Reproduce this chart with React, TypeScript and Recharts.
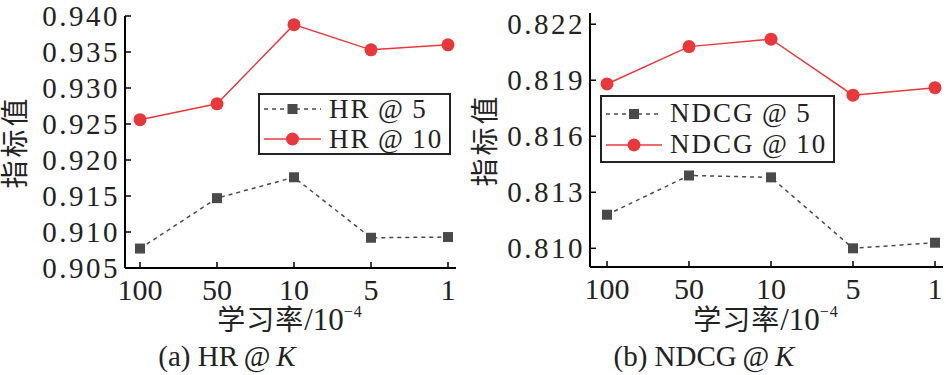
import React from 'react';
import { LineChart, Line, XAxis, YAxis, Legend } from 'recharts';

// learning rate (x 10^-4)
const lrLabels = ['100', '50', '10', '5', '1'];

const hr5 = [0.9077, 0.9147, 0.9176, 0.9092, 0.9093];
const hr10 = [0.9256, 0.9278, 0.9388, 0.9353, 0.936];
const hrTicks = [0.905, 0.91, 0.915, 0.92, 0.925, 0.93, 0.935, 0.94];

const ndcg5 = [0.8118, 0.8139, 0.8138, 0.81, 0.8103];
const ndcg10 = [0.8188, 0.8208, 0.8212, 0.8182, 0.8186];
const ndcgTicks = [0.81, 0.813, 0.816, 0.819, 0.822];

const RED = '#e8383c';
const GREY = '#4a4a4a';
const SERIF = '"Liberation Serif", "Times New Roman", serif';
// serif first so line boxes stay compact, CJK glyphs fall back to Noto
const MIXED = '"Liberation Serif", "Noto Sans CJK SC", serif';
const THIN = '\u2009';

const YTick = (props: any) => {
  const { x, y, payload } = props;
  return (
    <g>
      <line x1={x} y1={y} x2={x + 6} y2={y} stroke="#000" strokeWidth={1.5} />
      <text x={x - 5} y={y + 10} textAnchor="end" fontFamily={SERIF} fontSize={29} letterSpacing={2.5} fill="#222">
        {payload.value.toFixed(3)}
      </text>
    </g>
  );
};

const XTick = (props: any) => {
  const { x, y, payload } = props;
  return (
    <g>
      <line x1={x} y1={y} x2={x} y2={y - 6} stroke="#000" strokeWidth={1.5} />
      <text x={x} y={y + 32} textAnchor="middle" fontFamily={SERIF} fontSize={30} fill="#222">
        {payload.value}
      </text>
    </g>
  );
};

const SquareDot = (props: any) => {
  const { cx, cy, index } = props;
  if (cx == null || cy == null) return <g key={index} />;
  return <rect key={index} x={cx - 5} y={cy - 5} width={10} height={10} fill={GREY} />;
};

type LegendProps = { names: string[]; lineW: number; rowH: number; gap: number; pad: number };

const LegendBox = ({ names, lineW, rowH, gap, pad }: LegendProps) => (
  <div
    style={{
      border: '2px solid #222',
      background: '#fff',
      padding: `${pad}px 6px ${pad}px 4px`,
      fontFamily: SERIF,
      fontSize: 27,
      lineHeight: `${rowH}px`,
      letterSpacing: 2,
      color: '#222',
    }}
  >
    {names.map((n, i) => (
      <div
        key={n}
        style={{ display: 'flex', alignItems: 'center', whiteSpace: 'nowrap', height: rowH, marginTop: i ? gap : 0 }}
      >
        <svg width={lineW} height={20} style={{ marginRight: 8 }}>
          <line
            x1={0}
            y1={10}
            x2={lineW}
            y2={10}
            stroke={i === 0 ? GREY : RED}
            strokeWidth={1.5}
            strokeDasharray={i === 0 ? '4 4' : undefined}
          />
          {i === 0 ? (
            <rect x={lineW / 2 - 5} y={5} width={10} height={10} fill={GREY} />
          ) : (
            <circle cx={lineW / 2} cy={10} r={6.5} fill={RED} />
          )}
        </svg>
        <span>{n.replace('@', THIN + '@' + THIN)}</span>
      </div>
    ))}
  </div>
);

type PanelProps = {
  left: number;
  width: number;
  yWidth: number;
  marginRight: number;
  top: number;
  bottom: number;
  pad: { left: number; right: number };
  domain: [number, number];
  ticks: number[];
  s5: number[];
  s10: number[];
  names: string[];
  legendPos: { left: number; top: number };
  legend: Omit<LegendProps, 'names'>;
  caption: string;
  captionX: number;
  xLabelX: number;
};

const Panel = (p: PanelProps) => {
  const data = lrLabels.map((lr, i) => ({ lr, a: p.s5[i], b: p.s10[i] }));
  return (
    <div style={{ position: 'absolute', left: p.left, top: 0, width: p.width, height: 375 }}>
      <LineChart
        width={p.width}
        height={375}
        data={data}
        margin={{ top: p.top, right: p.marginRight, bottom: 0, left: 0 }}
      >
        <XAxis
          dataKey="lr"
          height={375 - p.bottom}
          padding={p.pad}
          axisLine={{ stroke: '#000', strokeWidth: 2 }}
          tickLine={false}
          tickSize={0}
          tickMargin={0}
          tick={<XTick />}
          interval={0}
        />
        <XAxis xAxisId="top" orientation="top" dataKey="lr" height={0} tick={false} tickLine={false} axisLine={{ stroke: '#000', strokeWidth: 2 }} />
        <YAxis
          width={p.yWidth}
          domain={p.domain}
          ticks={p.ticks}
          type="number"
          axisLine={{ stroke: '#000', strokeWidth: 2 }}
          tickLine={false}
          tickSize={0}
          tickMargin={0}
          tick={<YTick />}
          interval={0}
        />
        <YAxis yAxisId="r" orientation="right" width={0} domain={p.domain} tick={false} tickLine={false} axisLine={{ stroke: '#000', strokeWidth: 2 }} />
        <Legend
          layout="vertical"
          align="center"
          verticalAlign="middle"
          wrapperStyle={{ left: p.legendPos.left, top: p.legendPos.top, width: 'auto' }}
          content={() => <LegendBox names={p.names} {...p.legend} />}
        />
        <Line
          dataKey="a"
          name={p.names[0]}
          stroke={GREY}
          strokeWidth={1.5}
          strokeDasharray="4 4"
          dot={SquareDot}
          activeDot={false}
          isAnimationActive={false}
        />
        <Line
          dataKey="b"
          name={p.names[1]}
          stroke={RED}
          strokeWidth={1.5}
          dot={{ r: 6.5, fill: RED, stroke: RED, strokeWidth: 0 }}
          activeDot={false}
          isAnimationActive={false}
        />
      </LineChart>
      <div
        style={{
          position: 'absolute',
          left: 16,
          top: (p.top + p.bottom) / 2,
          transform: 'translate(-50%, -50%) rotate(-90deg)',
          fontFamily: MIXED,
          fontSize: 28,
          lineHeight: '30px',
          letterSpacing: 3,
          color: '#222',
          whiteSpace: 'nowrap',
        }}
      >
        指标值
      </div>
      <div
        style={{
          position: 'absolute',
          left: p.xLabelX,
          top: 305,
          transform: 'translateX(-50%)',
          fontFamily: MIXED,
          fontSize: 28,
          lineHeight: '30px',
          letterSpacing: 1,
          color: '#222',
          whiteSpace: 'nowrap',
        }}
      >
        学习率<span style={{ fontSize: 31, letterSpacing: 0 }}>/10</span>
        <span style={{ fontSize: 16, position: 'relative', top: -13 }}>−4</span>
      </div>
      <div
        style={{
          position: 'absolute',
          left: p.captionX,
          top: 341,
          transform: 'translateX(-50%)',
          fontFamily: SERIF,
          fontSize: 29,
          lineHeight: '30px',
          color: '#222',
          whiteSpace: 'nowrap',
        }}
      >
        {p.caption.replace('@', THIN + '@' + THIN)}
        <span style={{ fontStyle: 'italic' }}>K</span>
      </div>
    </div>
  );
};

export default function App() {
  return (
    <div style={{ position: 'absolute', left: 0, top: 0, width: 946, height: 375, background: '#fff', overflow: 'hidden' }}>
      <Panel
        left={0}
        width={470}
        yWidth={125}
        marginRight={14}
        top={16}
        bottom={268}
        pad={{ left: 15, right: 8 }}
        domain={[0.905, 0.94]}
        ticks={hrTicks}
        s5={hr5}
        s10={hr10}
        names={['HR@5', 'HR@10']}
        legendPos={{ left: 258, top: 93 }}
        legend={{ lineW: 57, rowH: 26, gap: 4, pad: 1 }}
        caption="(a) HR@"
        captionX={227}
        xLabelX={290}
      />
      <Panel
        left={470}
        width={476}
        yWidth={120}
        marginRight={3}
        top={13}
        bottom={267}
        pad={{ left: 17, right: 8 }}
        domain={[0.809, 0.8226]}
        ticks={ndcgTicks}
        s5={ndcg5}
        s10={ndcg10}
        names={['NDCG@5', 'NDCG@10']}
        legendPos={{ left: 130, top: 95 }}
        legend={{ lineW: 56, rowH: 29, gap: 2, pad: 2 }}
        caption="(b) NDCG@"
        captionX={234}
        xLabelX={296}
      />
    </div>
  );
}
